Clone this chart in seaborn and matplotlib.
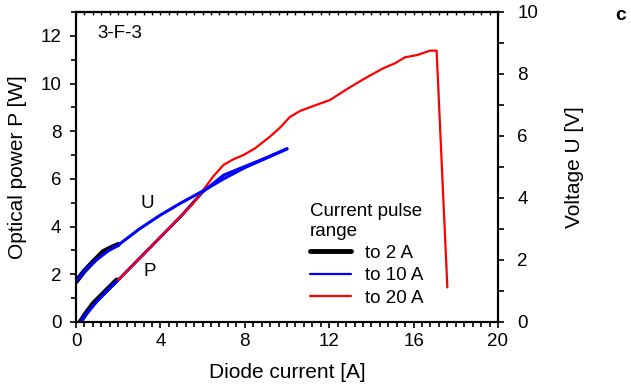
import numpy as np
import pandas as pd
import seaborn as sns
import matplotlib.pyplot as plt
from matplotlib.lines import Line2D
from matplotlib.ticker import MultipleLocator

# red: to 20 A pulse range, optical power only
red_I = [2.0, 3.0, 4.0, 5.0, 5.56, 6.03, 6.5, 6.98, 7.45, 7.93, 8.48, 9.19, 9.67,
         10.14, 10.62, 11.25, 12.04, 12.83, 13.62, 14.56, 15.12, 15.59, 16.15,
         16.78, 17.09, 17.6]
red_P = [1.76, 2.66, 3.56, 4.46, 4.98, 5.53, 6.1, 6.58, 6.82, 7.0, 7.28, 7.77, 8.15,
         8.6, 8.85, 9.06, 9.31, 9.76, 10.18, 10.64, 10.85, 11.1, 11.19,
         11.38, 11.38, 1.45]

# blue: to 10 A
blue_I_P = [0.19, 0.5, 1.0, 1.5, 2.0, 3.0, 4.0, 5.0, 6.0, 7.0, 8.0, 9.0, 10.0]
blue_P = [0.0, 0.35, 0.87, 1.33, 1.76, 2.66, 3.56, 4.46, 5.45, 6.16, 6.52, 6.88, 7.27]
blue_I_U = [0.0, 0.5, 1.0, 1.5, 2.0, 3.0, 4.0, 5.0, 6.0, 7.0, 8.0, 9.0, 10.0]
blue_U = [1.3, 1.72, 2.02, 2.28, 2.48, 3.0, 3.45, 3.85, 4.22, 4.62, 4.98, 5.28, 5.58]

# black: to 2 A
black_I_P = [0.19, 0.5, 0.82, 1.45, 1.93]
black_P = [0.0, 0.4, 0.78, 1.34, 1.76]
black_I_U = [0.0, 0.4, 0.82, 1.29, 1.6, 2.0]
black_U = [1.3, 1.65, 1.95, 2.27, 2.38, 2.5]

legend_labels = ["to 2 A", "to 10 A", "to 20 A"]

sns.set_style("ticks")
plt.rcParams['font.family'] = ['Liberation Sans', 'DejaVu Sans']
for k in ('text.color', 'axes.labelcolor', 'xtick.color', 'ytick.color'):
    plt.rcParams[k] = 'black'

fig = plt.figure(figsize=(6.31, 3.87), dpi=100)
ax = fig.add_axes([76 / 631, 1 - 322 / 387, 422 / 631, 310 / 387])
ax2 = ax.twinx()

def line(a, x, y, color, lw):
    df = pd.DataFrame({"I": x, "v": y})
    sns.lineplot(data=df, x="I", y="v", ax=a, color=color, lw=lw,
                 sort=False, estimator=None)

line(ax, black_I_P, black_P, "black", 3.6)
line(ax, blue_I_P, blue_P, "#0000ff", 2.2)
line(ax, red_I, red_P, "#ff0000", 1.6)
line(ax2, black_I_U, black_U, "black", 3.6)
line(ax2, blue_I_U, blue_U, "#0000ff", 2.2)

ax.set_xlim(0, 20)
ax.set_ylim(0, 13)
ax2.set_ylim(0, 10)

ax.set_xlabel("Diode current [A]", fontsize=15, labelpad=9)
ax.set_ylabel("Optical power P [W]", fontsize=15, labelpad=10)
ax2.set_ylabel("Voltage U [V]", fontsize=15, labelpad=19)

ax.xaxis.set_major_locator(MultipleLocator(4))
ax.xaxis.set_minor_locator(MultipleLocator(0.4))
ax.yaxis.set_major_locator(MultipleLocator(2))
ax.yaxis.set_minor_locator(MultipleLocator(1))
ax2.yaxis.set_major_locator(MultipleLocator(2))
ax2.yaxis.set_minor_locator(MultipleLocator(1))

ax.tick_params(which='both', direction='out', labelsize=13.5, width=1.2, color='black')
ax.tick_params(which='major', length=4.5)
ax.tick_params(which='minor', length=3.5)
ax.tick_params(axis='y', which='major', pad=6)
ax2.tick_params(which='both', direction='out', labelsize=13.5, width=1.2, length=4,
                color='black')
ax2.tick_params(which='major', pad=10)

top = ax.secondary_xaxis('top')
top.set_xticks(np.arange(0, 20.01, 0.4))
top.tick_params(direction='in', length=2, width=1.0, labeltop=False, color='black')
top.set_xticklabels([])

for a in (ax, ax2):
    for s in a.spines.values():
        s.set_linewidth(1.5)
        s.set_color("black")
top.spines['top'].set_linewidth(1.5)
top.spines['top'].set_color("black")

ax.text(0.05, 0.93, "3-F-3", transform=ax.transAxes, fontsize=13.5, va='center')
ax.text(3.4, 4.95, "U", fontsize=13.5, ha='center', va='center')
ax.text(3.5, 2.1, "P", fontsize=13.5, ha='center', va='center')
fig.text(621 / 631, 1 - 15 / 387, "c", fontsize=14, fontweight='bold',
         ha='center', va='center')

handles = [Line2D([], [], color="black", lw=3.5),
           Line2D([], [], color="#0000ff", lw=1.6),
           Line2D([], [], color="#ff0000", lw=1.6)]
leg = ax2.legend(handles, legend_labels, title="Current pulse\nrange",
                 loc='upper left', bbox_to_anchor=(310 / 631, 1 - 203 / 387),
                 bbox_transform=fig.transFigure, frameon=False, fontsize=13.5,
                 title_fontsize=13.5, handlelength=2.2, handletextpad=0.75,
                 labelspacing=0.28, borderpad=0, borderaxespad=0, alignment='left')

fig.savefig("out.png", dpi=100)
